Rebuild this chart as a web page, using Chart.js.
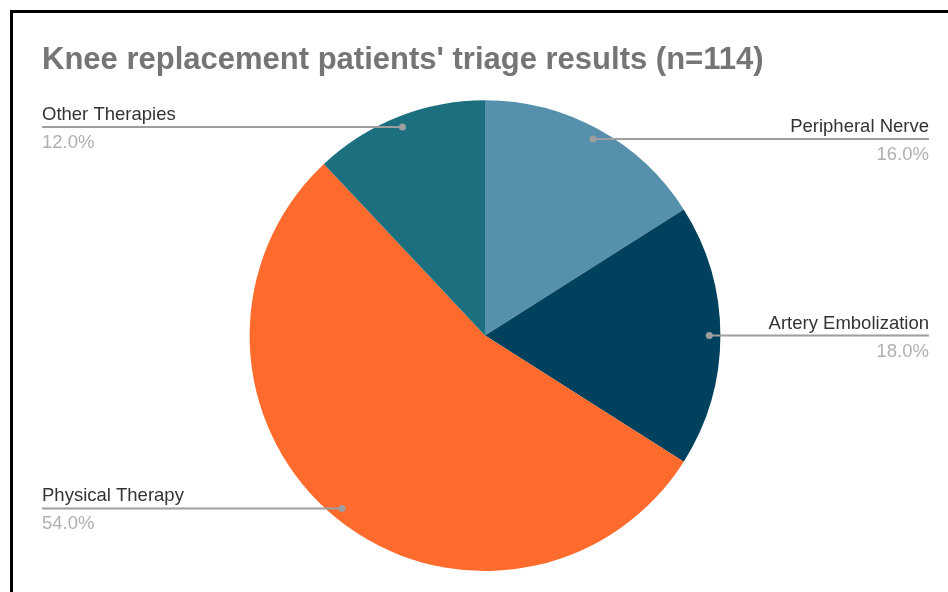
<!DOCTYPE html>
<html>
<head>
<meta charset="utf-8">
<script src="https://cdn.jsdelivr.net/npm/chart.js@4"></script>
<style>
    html, body { margin: 0; padding: 0; background: #fff; overflow: hidden; }
    #wrap { position: relative; width: 948px; height: 592px; }
    #frame { position: absolute; left: 10px; top: 10px; width: 1000px; height: 1000px; border: 3px solid #000; }
    canvas { position: absolute; left: 0; top: 0; }
</style>
</head>
<body>
<div id="wrap">
    <div id="frame"></div>
    <canvas id="pieChart" width="948" height="592"></canvas>
</div>
<script>
const categories = ['Peripheral Nerve', 'Artery Embolization', 'Physical Therapy', 'Other Therapies'];
const shares = [16, 18, 54, 12];
const sliceColors = ['#5690ad', '#00415e', '#ff6b2c', '#1b6f7f'];
const chartTitle = "Knee replacement patients' triage results (n=114)";

// leader lines + labels, Sheets style
const leaderLabels = {
    id: 'leaderLabels',
    afterDatasetsDraw(chart) {
        const ctx = chart.ctx;
        const meta = chart.getDatasetMeta(0);
        const total = shares.reduce((a, b) => a + b, 0);
        const leftX = 42, rightX = 929;
        ctx.save();
        meta.data.forEach((arc, i) => {
            const p = arc.getProps(['x', 'y', 'startAngle', 'endAngle', 'outerRadius'], true);
            const mid = (p.startAngle + p.endAngle) / 2;
            const r = p.outerRadius * 0.953;
            const dx = p.x + Math.cos(mid) * r;
            const dy = p.y + Math.sin(mid) * r;
            const onLeft = dx < p.x;
            const endX = onLeft ? leftX : rightX;

            ctx.strokeStyle = '#9e9e9e';
            ctx.lineWidth = 2;
            ctx.beginPath();
            ctx.moveTo(dx, dy);
            ctx.lineTo(endX, dy);
            ctx.stroke();

            ctx.fillStyle = '#9e9e9e';
            ctx.beginPath();
            ctx.arc(dx, dy, 3.5, 0, Math.PI * 2);
            ctx.fill();

            ctx.textAlign = onLeft ? 'left' : 'right';
            ctx.textBaseline = 'alphabetic';
            ctx.font = '18.5px "Liberation Sans", Arial, sans-serif';
            ctx.fillStyle = '#333333';
            ctx.fillText(categories[i], endX, dy - 7);
            ctx.fillStyle = '#b0b0b0';
            ctx.fillText((shares[i] / total * 100).toFixed(1) + '%', endX, dy + 21);
        });
        ctx.restore();
    }
};

const pieCtx = document.getElementById('pieChart').getContext('2d');
const pieChart = new Chart(pieCtx, {
    type: 'pie',
    data: {
        labels: categories,
        datasets: [{
            data: shares,
            backgroundColor: sliceColors,
            borderWidth: 0
        }]
    },
    options: {
        responsive: false,
        animation: false,
        layout: {
            padding: { left: 42, right: 20, top: 0, bottom: 21 }
        },
        plugins: {
            legend: { display: false },
            tooltip: { enabled: false },
            title: {
                display: true,
                text: chartTitle,
                align: 'start',
                color: '#757575',
                font: { family: '"Liberation Sans", Arial, sans-serif', size: 31, weight: 'bold', lineHeight: 1.2 },
                padding: { top: 42, bottom: 21 }
            }
        }
    },
    plugins: [leaderLabels]
});
</script>
</body>
</html>
